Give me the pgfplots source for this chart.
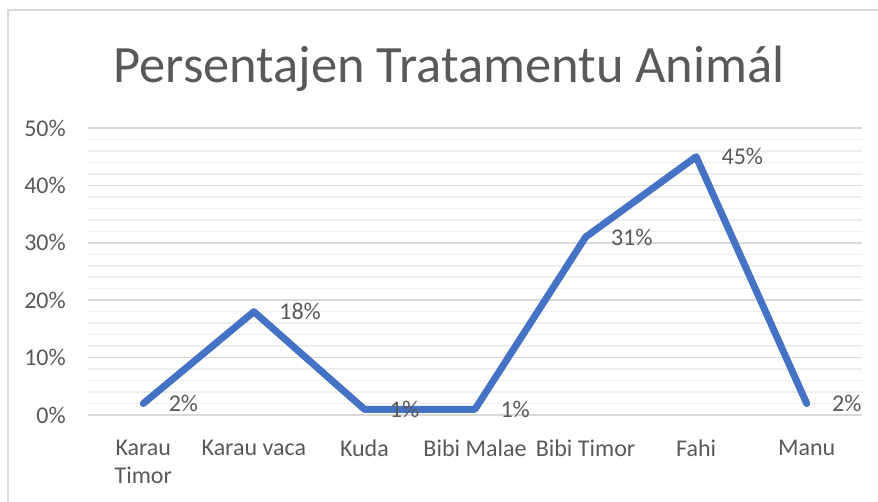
\documentclass[border=0pt]{standalone}
\usepackage{pgfplots}
\pgfplotsset{compat=1.18}
\usepackage{fontspec}
\setmainfont{Carlito}
\definecolor{txt}{RGB}{89,89,89}
\definecolor{ln}{RGB}{68,114,196}
\definecolor{majg}{RGB}{217,217,217}
\definecolor{ming}{RGB}{238,238,238}
\definecolor{frm}{RGB}{217,217,217}
\begin{document}
\begin{tikzpicture}
\useasboundingbox (0pt,0pt) rectangle (878pt,-501pt);
\draw[frm, line width=1.5pt] (8pt,-505pt) -- (8pt,-10pt) -- (882pt,-10pt);
\node[txt, font=\fontsize{52.5}{60}\selectfont, anchor=base] at (449pt,-82pt) {Persentajen Tratamentu Animál};
\begin{axis}[
  at={(88pt,-415pt)}, anchor=south west,
  scale only axis, width=774pt, height=287pt,
  xmin=-0.5, xmax=6.5, ymin=0, ymax=50,
  xtick={0,1,2,3,4,5,6},
  xticklabels={{Karau\\Timor},{Karau vaca},{Kuda},{Bibi Malae},{Bibi Timor},{Fahi},{Manu}},
  ytick={0,10,20,30,40,50},
  minor y tick num=4,
  yticklabel={\pgfmathprintnumber{\tick}\%},
  /pgf/number format/assume math mode=true,
  major tick length=0pt, minor tick length=0pt,
  axis line style={draw=none},
  ymajorgrids, yminorgrids,
  major grid style={majg, line width=1.5pt},
  minor grid style={ming, line width=1.5pt},
  xticklabel style={txt, font=\fontsize{24}{28}\selectfont, align=center, anchor=north, inner sep=0pt, yshift=-25pt},
  yticklabel style={txt, font=\fontsize{24}{28}\selectfont, anchor=east, inner sep=0pt, xshift=-22pt},
  nodes near coords={\pgfmathprintnumber{\pgfplotspointmeta}\%},
  nodes near coords style={txt, font=\fontsize{24}{28}\selectfont, anchor=west, inner sep=0pt, xshift=22pt},
  clip=false,
]
\addplot[ln, line width=7pt, line cap=round, line join=round, mark=none] coordinates {
(0,2) (1,18) (2,1) (3,1) (4,31) (5,45) (6,2)
};
\end{axis}
\end{tikzpicture}
\end{document}
